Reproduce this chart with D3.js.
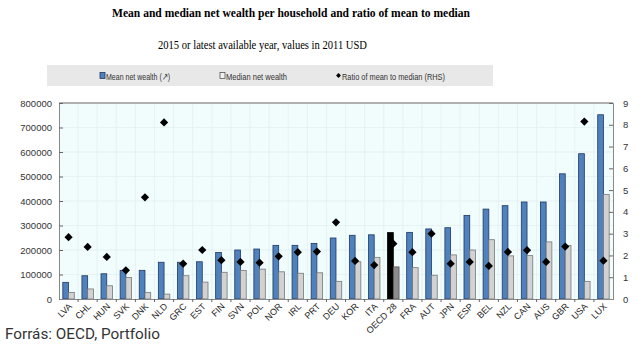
<!DOCTYPE html>
<html lang="en">
<head>
    <meta charset="UTF-8">
    <script src="https://d3js.org/d3.v7.min.js"></script>
    <style>
        body {
            margin: 0;
            background: #fff;
        }
        svg text {
            font-family: "Liberation Sans", Arial, sans-serif;
        }
    </style>
</head>
<body>
    <div id="chart"></div>
    <script>
        // országok, átlag- és medián vagyon (2011 USD), arány
        const countries = ["LVA", "CHL", "HUN", "SVK", "DNK", "NLD", "GRC", "EST", "FIN", "SVN",
            "POL", "NOR", "IRL", "PRT", "DEU", "KOR", "ITA", "OECD 28", "FRA", "AUT",
            "JPN", "ESP", "BEL", "NZL", "CAN", "AUS", "GBR", "USA", "LUX"];
        const meanWealth = [68000, 95000, 103000, 117000, 117000, 150000, 150000, 152000, 190000, 200000,
            204000, 219000, 219000, 227000, 249000, 260000, 262000, 271000, 272000, 286000,
            291000, 341000, 367000, 381000, 396000, 396000, 511000, 593000, 752000];
        const medianWealth = [27000, 41000, 54000, 88000, 26000, 20000, 95000, 69000, 109000, 117000,
            122000, 111000, 105000, 107000, 72000, 152000, 170000, 131000, 128000, 97000,
            180000, 200000, 242000, 176000, 177000, 233000, 218000, 72000, 427000];
        const ratio = [2.84, 2.39, 1.93, 1.32, 4.67, 8.11, 1.62, 2.25, 1.78, 1.70,
            1.67, 1.96, 2.15, 2.18, 3.52, 1.75, 1.56, 2.54, 2.15, 3.0,
            1.62, 1.70, 1.52, 2.16, 2.24, 1.70, 2.41, 8.15, 1.76];
        const leftTicks = d3.range(0, 800001, 100000);
        const rightTicks = d3.range(0, 10);

        const width = 640, height = 345;
        const margin = { top: 103, right: 27, bottom: 46, left: 59 };

        const svg = d3.select("#chart").append("svg")
            .attr("width", width)
            .attr("height", height);

        // címek
        svg.append("text")
            .attr("x", 112).attr("y", 17)
            .style("font-family", "'Liberation Serif', 'Times New Roman', serif")
            .style("font-weight", "bold")
            .style("font-size", "13px")
            .attr("textLength", 358)
            .attr("lengthAdjust", "spacingAndGlyphs")
            .attr("fill", "#000")
            .text("Mean and median net wealth per household and ratio of mean to median");

        svg.append("text")
            .attr("x", 158).attr("y", 49)
            .style("font-family", "'Liberation Serif', 'Times New Roman', serif")
            .style("font-size", "12px")
            .attr("textLength", 209)
            .attr("lengthAdjust", "spacingAndGlyphs")
            .attr("fill", "#000")
            .text("2015 or latest available year, values in 2011 USD");

        // jelmagyarázat
        const legend = svg.append("g");
        legend.append("rect")
            .attr("x", 47).attr("y", 65)
            .attr("width", 446).attr("height", 21)
            .attr("fill", "#e8e8e8");
        legend.append("rect")
            .attr("x", 100).attr("y", 72.5).attr("width", 5).attr("height", 6)
            .attr("fill", "#4f81bd").attr("stroke", "#1f3864").attr("stroke-width", 0.8);
        legend.append("text")
            .attr("x", 106).attr("y", 79.5)
            .style("font-size", "9.5px").attr("fill", "#333")
            .attr("textLength", 64).attr("lengthAdjust", "spacingAndGlyphs")
            .text("Mean net wealth (\u2197)");
        legend.append("rect")
            .attr("x", 220).attr("y", 72.5).attr("width", 5).attr("height", 6)
            .attr("fill", "#f0f0f0").attr("stroke", "#555").attr("stroke-width", 0.8);
        legend.append("text")
            .attr("x", 226).attr("y", 79.5)
            .style("font-size", "9.5px").attr("fill", "#333")
            .attr("textLength", 61).attr("lengthAdjust", "spacingAndGlyphs")
            .text("Median net wealth");
        legend.append("path")
            .attr("d", d3.symbol(d3.symbolSquare, 12)())
            .attr("transform", "translate(338.5,75.5) rotate(45)")
            .attr("fill", "#000");
        legend.append("text")
            .attr("x", 342).attr("y", 79.5)
            .style("font-size", "9.5px").attr("fill", "#333")
            .attr("textLength", 103).attr("lengthAdjust", "spacingAndGlyphs")
            .text("Ratio of mean to median (RHS)");

        const x = d3.scaleBand()
            .domain(countries)
            .range([margin.left, width - margin.right]);

        const y = d3.scaleLinear()
            .domain([0, 800000])
            .range([height - margin.bottom, margin.top]);

        const yR = d3.scaleLinear()
            .domain([0, 9])
            .range([height - margin.bottom, margin.top]);

        const bw = x.bandwidth();
        const barW = bw * 0.3;
        const y0 = height - margin.bottom;

        // háttér és halvány rács
        svg.append("rect")
            .attr("x", margin.left).attr("y", margin.top)
            .attr("width", width - margin.left - margin.right)
            .attr("height", y0 - margin.top)
            .attr("fill", "#f1fcfc");

        svg.append("g")
            .selectAll("line")
            .data(leftTicks.slice(1, -1))
            .enter().append("line")
            .attr("x1", margin.left).attr("x2", width - margin.right)
            .attr("y1", d => y(d)).attr("y2", d => y(d))
            .attr("stroke", "#e3f0f0").attr("stroke-width", 0.8);

        svg.append("g")
            .selectAll("line")
            .data(countries.slice(1))
            .enter().append("line")
            .attr("x1", d => x(d)).attr("x2", d => x(d))
            .attr("y1", margin.top).attr("y2", y0)
            .attr("stroke", "#e3f0f0").attr("stroke-width", 0.8);

        // oszlopok
        const data = countries.map((c, i) => ({
            c, mean: meanWealth[i], median: medianWealth[i], ratio: ratio[i]
        }));

        svg.append("g")
            .selectAll("rect")
            .data(data)
            .enter().append("rect")
            .attr("x", d => x(d.c) + bw * 0.2)
            .attr("y", d => y(d.mean))
            .attr("width", barW)
            .attr("height", d => y0 - y(d.mean))
            .attr("fill", d => d.c === "OECD 28" ? "#000" : "#4f81bd")
            .attr("stroke", d => d.c === "OECD 28" ? "#000" : "#1f3864")
            .attr("stroke-width", 0.8);

        svg.append("g")
            .selectAll("rect")
            .data(data)
            .enter().append("rect")
            .attr("x", d => x(d.c) + bw * 0.2 + barW)
            .attr("y", d => y(d.median))
            .attr("width", barW)
            .attr("height", d => y0 - y(d.median))
            .attr("fill", d => d.c === "OECD 28" ? "#8c8c8c" : "#d2d2d2")
            .attr("stroke", d => d.c === "OECD 28" ? "#555" : "#777")
            .attr("stroke-width", 0.8);

        // arány (jobb tengely)
        svg.append("g")
            .selectAll("path")
            .data(data)
            .enter().append("path")
            .attr("d", d3.symbol(d3.symbolSquare, 34)())
            .attr("transform", d => `translate(${x(d.c) + bw / 2},${yR(d.ratio)}) rotate(45)`)
            .attr("fill", "#000");

        // keret felül
        svg.append("line")
            .attr("x1", margin.left).attr("x2", width - margin.right)
            .attr("y1", margin.top).attr("y2", margin.top)
            .attr("stroke", "#999").attr("stroke-width", 1.5);

        // tengelyek
        const axisL = svg.append("g")
            .attr("transform", `translate(${margin.left},0)`)
            .call(d3.axisLeft(y)
                .tickValues(leftTicks)
                .tickFormat(d3.format("d"))
                .tickSize(-4)
                .tickPadding(7));

        const axisR = svg.append("g")
            .attr("transform", `translate(${width - margin.right},0)`)
            .call(d3.axisRight(yR)
                .tickValues(rightTicks)
                .tickSize(-4)
                .tickPadding(10));

        [axisL, axisR].forEach(a => {
            a.select(".domain").attr("stroke", "#888");
            a.selectAll(".tick line").attr("stroke", "#666");
            a.selectAll("text")
                .style("font-family", "'Liberation Sans', Arial, sans-serif")
                .style("font-size", "9.5px")
                .attr("fill", "#333");
        });

        const axisB = svg.append("g")
            .attr("transform", `translate(0,${y0})`)
            .call(d3.axisBottom(x).tickSize(0).tickPadding(0));
        axisB.select(".domain").attr("stroke", "#888");
        axisB.selectAll("text")
            .style("font-size", "9px")
            .attr("fill", "#222")
            .style("text-anchor", "end")
            .attr("dy", 0)
            .attr("y", 0)
            .attr("transform", "translate(4,8) rotate(-45)");

        // osztásjelek a sávhatárokon
        svg.append("g")
            .selectAll("line")
            .data(countries.slice(1))
            .enter().append("line")
            .attr("x1", d => x(d)).attr("x2", d => x(d))
            .attr("y1", y0).attr("y2", y0 + 3)
            .attr("stroke", "#666");

        // forrás
        svg.append("text")
            .attr("x", 5).attr("y", 339)
            .style("font-family", "Roboto, 'Open Sans', sans-serif")
            .style("font-size", "14px")
            .attr("textLength", 155)
            .attr("lengthAdjust", "spacingAndGlyphs")
            .attr("fill", "#333")
            .text("Forrás: OECD, Portfolio");
    </script>
</body>
</html>
